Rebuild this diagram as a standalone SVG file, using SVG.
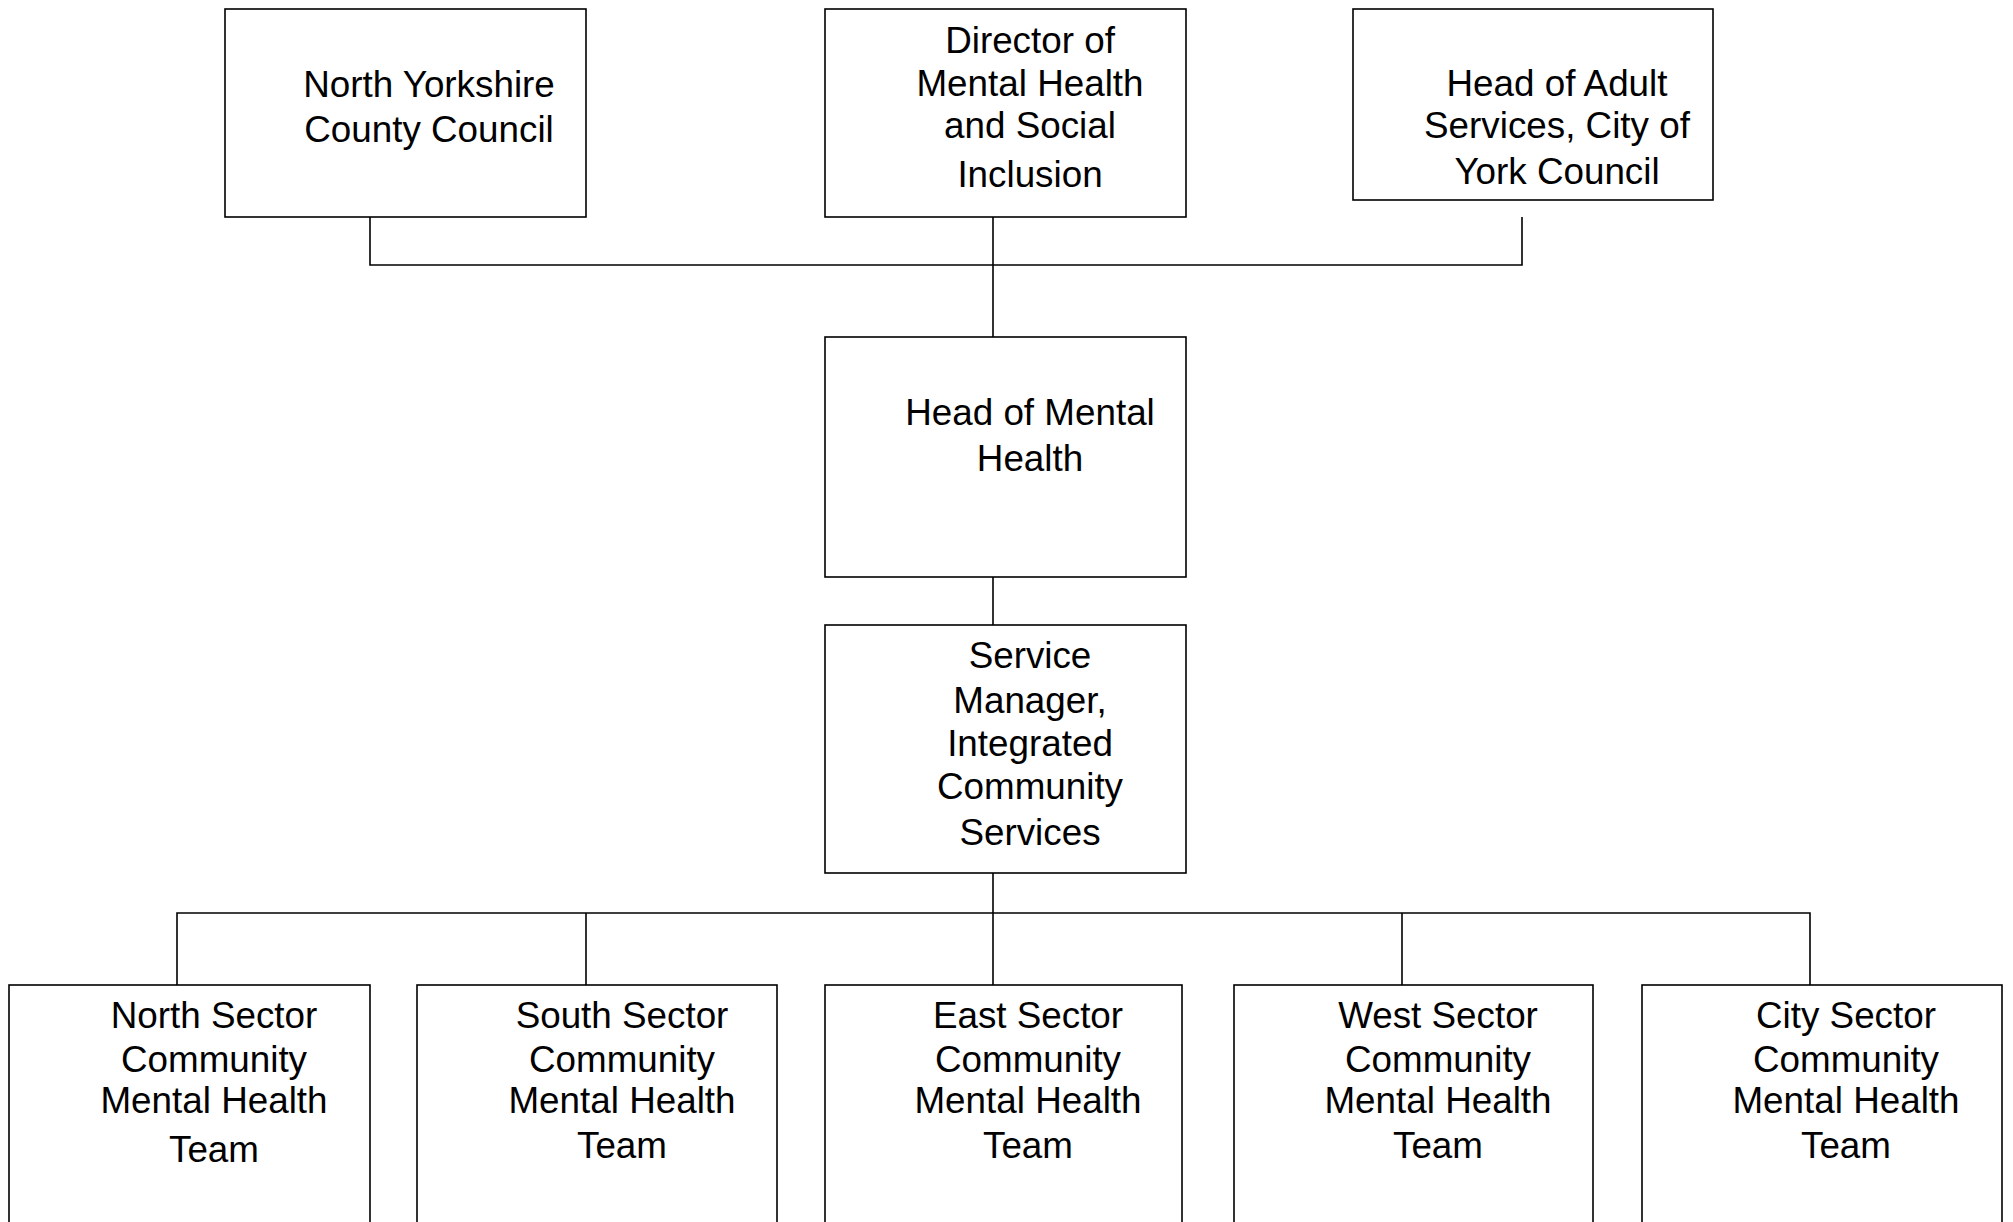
<svg xmlns="http://www.w3.org/2000/svg" width="2013" height="1222" viewBox="0 0 2013 1222">
<style>
.box{fill:#fff;stroke:#000;stroke-width:1.6}
.c{fill:none;stroke:#000;stroke-width:1.6}
text{font-family:"Liberation Sans",Arial,sans-serif;font-size:36.8px;fill:#000;text-anchor:middle}
</style>
<rect width="2013" height="1222" fill="#fff"/>
<g id="connectors">
<path class="c" d="M370,217 V265 H1522 V217"/>
<path class="c" d="M993,217 V337"/>
<path class="c" d="M993,577 V625"/>
<path class="c" d="M993,865 V985"/>
<path class="c" d="M177,985 V913 H1810 V985"/>
<path class="c" d="M586,913 V985"/>
<path class="c" d="M1402,913 V985"/>
</g>
<g id="nycc">
<rect class="box" x="225" y="9" width="361" height="208"/>
<text x="429" y="97">North Yorkshire</text>
<text x="429" y="142">County Council</text>
</g>
<g id="director">
<rect class="box" x="825" y="9" width="361" height="208"/>
<text x="1030" y="53">Director of</text>
<text x="1030" y="96">Mental Health</text>
<text x="1030" y="138">and Social</text>
<text x="1030" y="187">Inclusion</text>
</g>
<g id="adult">
<rect class="box" x="1353" y="9" width="360" height="191"/>
<text x="1557" y="96">Head of Adult</text>
<text x="1557" y="138">Services, City of</text>
<text x="1557" y="184">York Council</text>
</g>
<g id="hmh">
<rect class="box" x="825" y="337" width="361" height="240"/>
<text x="1030" y="425">Head of Mental</text>
<text x="1030" y="471">Health</text>
</g>
<g id="sm">
<rect class="box" x="825" y="625" width="361" height="248"/>
<text x="1030" y="668">Service</text>
<text x="1030" y="713">Manager,</text>
<text x="1030" y="756">Integrated</text>
<text x="1030" y="799">Community</text>
<text x="1030" y="845">Services</text>
</g>
<g id="north">
<rect class="box" x="9" y="985" width="361" height="250"/>
<text x="214" y="1028">North Sector</text>
<text x="214" y="1072">Community</text>
<text x="214" y="1113">Mental Health</text>
<text x="214" y="1162">Team</text>
</g>
<g id="south">
<rect class="box" x="417" y="985" width="360" height="250"/>
<text x="622" y="1028">South Sector</text>
<text x="622" y="1072">Community</text>
<text x="622" y="1113">Mental Health</text>
<text x="622" y="1158">Team</text>
</g>
<g id="east">
<rect class="box" x="825" y="985" width="357" height="250"/>
<text x="1028" y="1028">East Sector</text>
<text x="1028" y="1072">Community</text>
<text x="1028" y="1113">Mental Health</text>
<text x="1028" y="1158">Team</text>
</g>
<g id="west">
<rect class="box" x="1234" y="985" width="359" height="250"/>
<text x="1438" y="1028">West Sector</text>
<text x="1438" y="1072">Community</text>
<text x="1438" y="1113">Mental Health</text>
<text x="1438" y="1158">Team</text>
</g>
<g id="city">
<rect class="box" x="1642" y="985" width="360" height="250"/>
<text x="1846" y="1028">City Sector</text>
<text x="1846" y="1072">Community</text>
<text x="1846" y="1113">Mental Health</text>
<text x="1846" y="1158">Team</text>
</g>
</svg>
